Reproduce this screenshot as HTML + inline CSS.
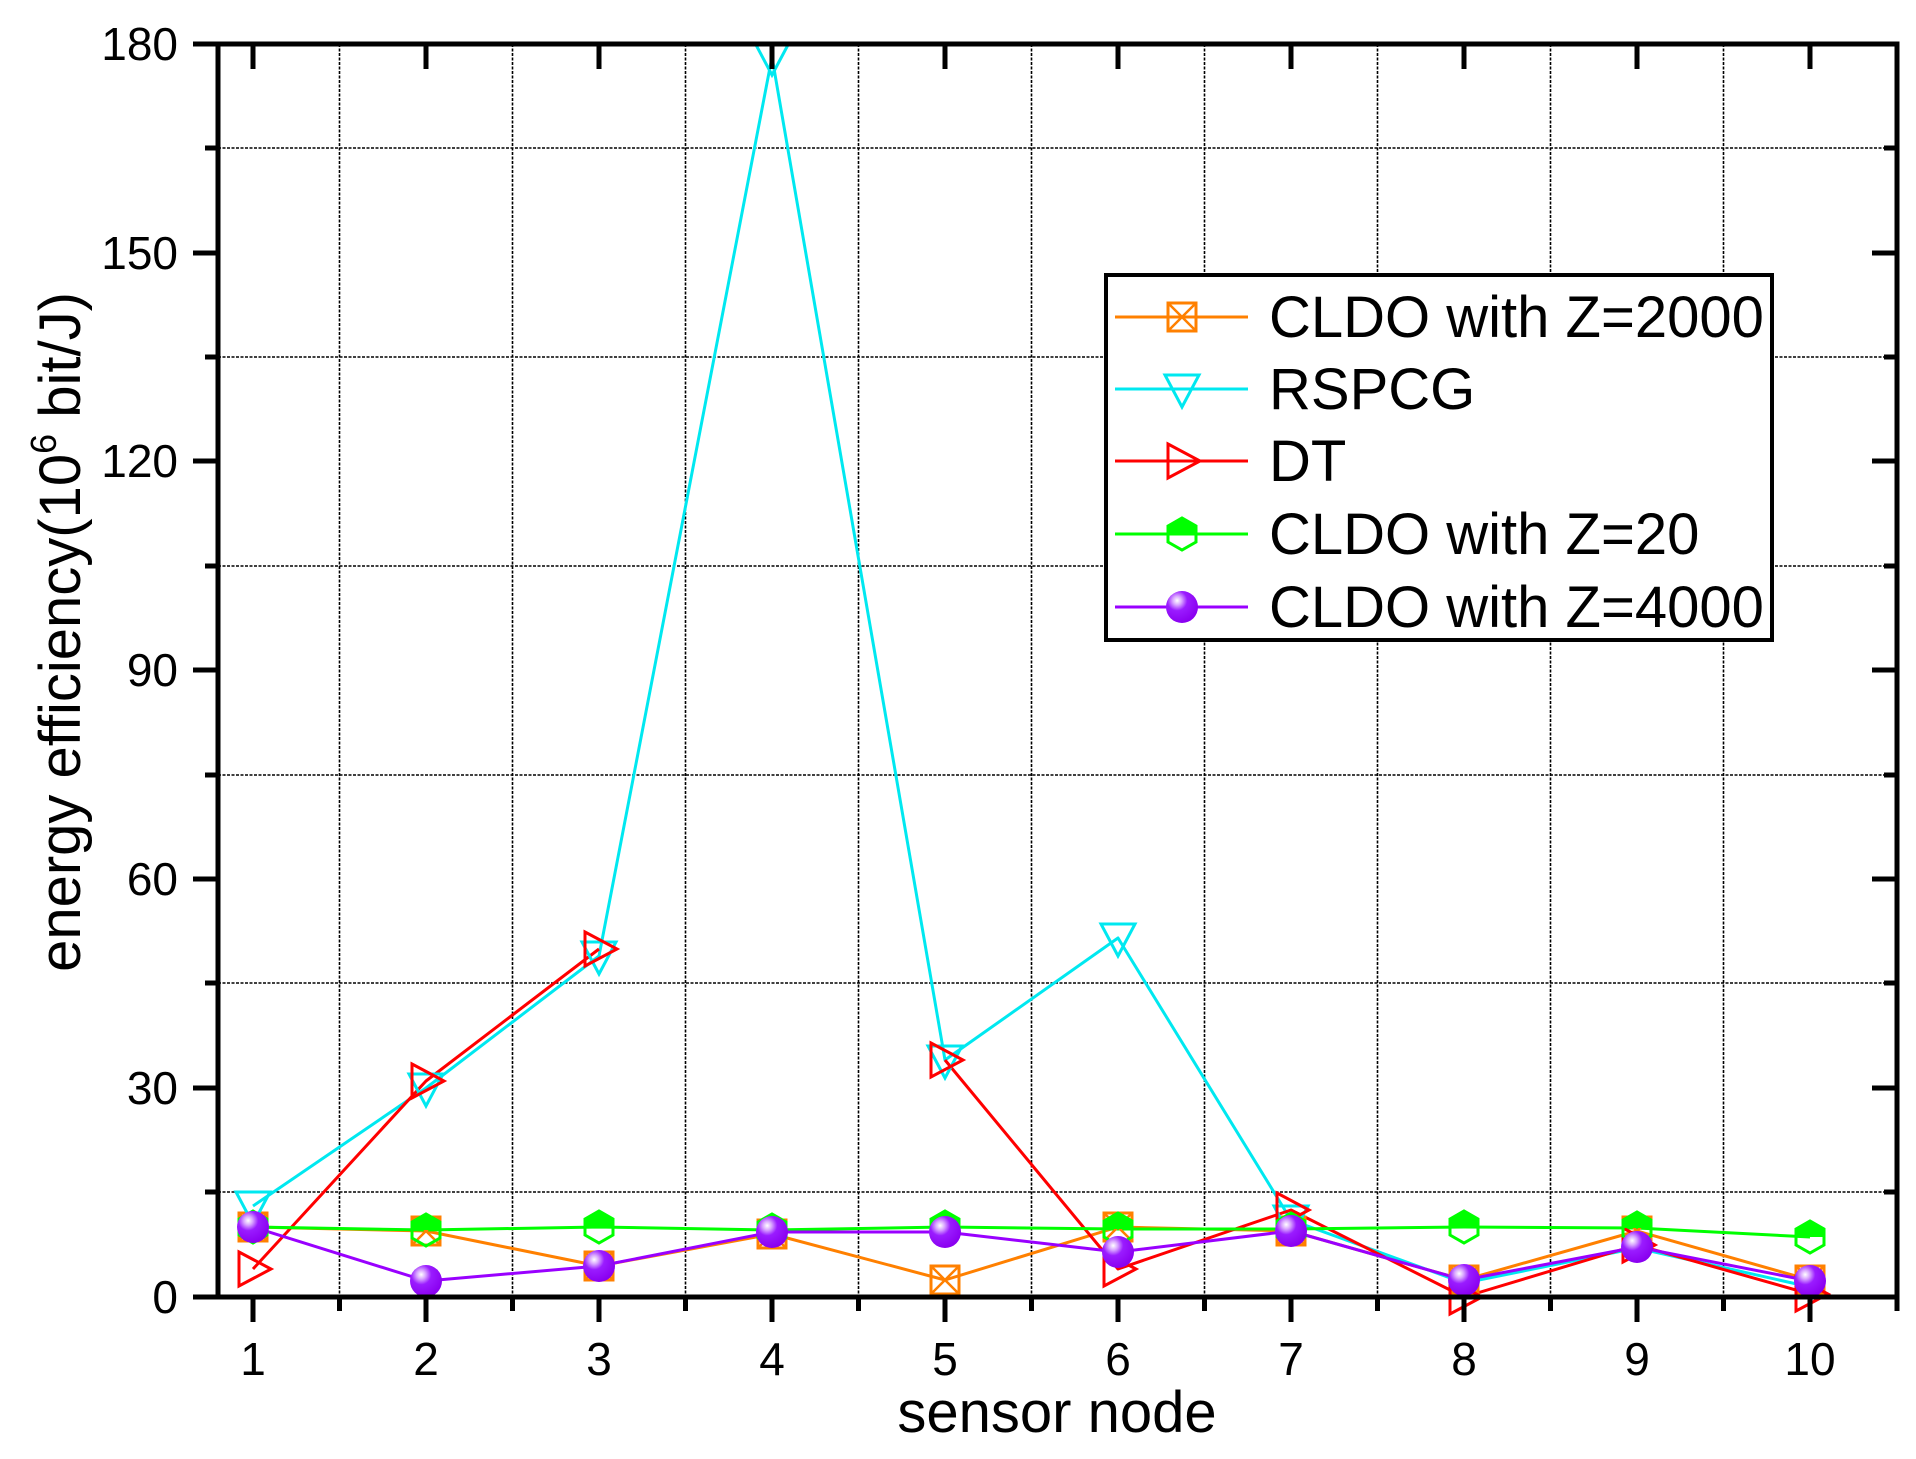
<!DOCTYPE html>
<html><head><meta charset="utf-8"><style>
html,body{margin:0;padding:0;background:#fff;}
svg{display:block;}
text{font-family:"Liberation Sans",Arial,sans-serif;fill:#000;}
</style></head><body>
<svg width="1916" height="1459" viewBox="0 0 1916 1459" xmlns="http://www.w3.org/2000/svg">
<defs>
<radialGradient id="sph" cx="0.35" cy="0.3" r="0.7">
<stop offset="0" stop-color="#ffffff"/>
<stop offset="0.2" stop-color="#d9a6ff"/>
<stop offset="0.45" stop-color="#9a1cff"/>
<stop offset="1" stop-color="#8a00f0"/>
</radialGradient>
<g id="sq"><rect x="-14" y="-14" width="28" height="28" fill="none" stroke="#ff8000" stroke-width="3"/><path d="M-14,-14L14,14M14,-14L-14,14" stroke="#ff8000" stroke-width="2.5"/></g>
<g id="dtri"><path d="M-17,-14L17,-14L0,18Z" fill="none" stroke="#00e8f0" stroke-width="3"/></g>
<g id="rtri"><path d="M-14,-17L18,0L-14,17Z" fill="none" stroke="#ff0000" stroke-width="3"/></g>
<g id="hex"><path d="M-14,0L-14,-8L0,-16L14,-8L14,0Z" fill="#00ff00"/><path d="M-14,-8L0,-16L14,-8L14,8L0,16L-14,8Z" fill="none" stroke="#00ff00" stroke-width="3"/></g>
<g id="sphm"><circle r="16" fill="url(#sph)"/></g>
</defs>

<!-- grid -->
<g stroke="#000" stroke-width="1.6" stroke-dasharray="3,1.5">
<line x1="218" x2="1897" y1="1192" y2="1192"/>
<line x1="218" x2="1897" y1="983" y2="983"/>
<line x1="218" x2="1897" y1="775" y2="775"/>
<line x1="218" x2="1897" y1="566" y2="566"/>
<line x1="218" x2="1897" y1="357" y2="357"/>
<line x1="218" x2="1897" y1="148" y2="148"/>
<line y1="44" y2="1297" x1="339.5" x2="339.5"/>
<line y1="44" y2="1297" x1="512.5" x2="512.5"/>
<line y1="44" y2="1297" x1="685.5" x2="685.5"/>
<line y1="44" y2="1297" x1="858.5" x2="858.5"/>
<line y1="44" y2="1297" x1="1031.5" x2="1031.5"/>
<line y1="44" y2="1297" x1="1204.5" x2="1204.5"/>
<line y1="44" y2="1297" x1="1377.5" x2="1377.5"/>
<line y1="44" y2="1297" x1="1550.5" x2="1550.5"/>
<line y1="44" y2="1297" x1="1723.5" x2="1723.5"/>
</g>

<!-- series lines -->
<g fill="none" stroke-width="3" stroke-linejoin="round">
<polyline stroke="#ff8000" points="253,1227 426,1231 599,1266 772,1234 945,1280 1118,1227 1291,1231 1464,1280 1637,1231 1810,1280"/>
<polyline stroke="#00e8f0" points="253,1206 426,1088 599,956 772,57 945,1060 1118,938 1291,1220 1464,1283 1637,1248 1810,1287"/>
<polyline stroke="#ff0000" points="253,1269 426,1081 599,949"/>
<polyline stroke="#ff0000" points="945,1060 1118,1269 1291,1210 1464,1297 1637,1245 1810,1294"/>
<polyline stroke="#00ff00" points="253,1227 426,1230 599,1227 772,1230 945,1227 1118,1229 1291,1229 1464,1227 1637,1228 1810,1237"/>
<polyline stroke="#9900ff" points="253,1227 426,1281 599,1266 772,1232 945,1232 1118,1252 1291,1231 1464,1280 1637,1247 1810,1281"/>
</g>

<!-- markers -->
<g>
<use href="#sq" x="253" y="1227"/><use href="#sq" x="426" y="1231"/><use href="#sq" x="599" y="1266"/><use href="#sq" x="772" y="1234"/><use href="#sq" x="945" y="1280"/><use href="#sq" x="1118" y="1227"/><use href="#sq" x="1291" y="1231"/><use href="#sq" x="1464" y="1280"/><use href="#sq" x="1637" y="1231"/><use href="#sq" x="1810" y="1280"/>
<use href="#dtri" x="253" y="1206"/><use href="#dtri" x="426" y="1088"/><use href="#dtri" x="599" y="956"/><use href="#dtri" x="772" y="57"/><use href="#dtri" x="945" y="1060"/><use href="#dtri" x="1118" y="938"/><use href="#dtri" x="1291" y="1220"/>
<use href="#rtri" x="253" y="1269"/><use href="#rtri" x="426" y="1081"/><use href="#rtri" x="599" y="949"/><use href="#rtri" x="945" y="1060"/><use href="#rtri" x="1118" y="1269"/><use href="#rtri" x="1291" y="1210"/><use href="#rtri" x="1464" y="1297"/><use href="#rtri" x="1637" y="1245"/><use href="#rtri" x="1810" y="1294"/>
<use href="#hex" x="253" y="1227"/><use href="#hex" x="426" y="1230"/><use href="#hex" x="599" y="1227"/><use href="#hex" x="772" y="1230"/><use href="#hex" x="945" y="1227"/><use href="#hex" x="1118" y="1229"/><use href="#hex" x="1291" y="1229"/><use href="#hex" x="1464" y="1227"/><use href="#hex" x="1637" y="1228"/><use href="#hex" x="1810" y="1237"/>
<use href="#sphm" x="253" y="1227"/><use href="#sphm" x="426" y="1281"/><use href="#sphm" x="599" y="1266"/><use href="#sphm" x="772" y="1232"/><use href="#sphm" x="945" y="1232"/><use href="#sphm" x="1118" y="1252"/><use href="#sphm" x="1291" y="1231"/><use href="#sphm" x="1464" y="1280"/><use href="#sphm" x="1637" y="1247"/><use href="#sphm" x="1810" y="1281"/>
</g>

<!-- axes frame -->
<rect x="218" y="44" width="1679" height="1253" fill="none" stroke="#000" stroke-width="5"/>
<!-- ticks -->
<g stroke="#000" stroke-width="5">
<!-- left major outward -->
<line x1="193" x2="218" y1="1297" y2="1297"/><line x1="193" x2="218" y1="1088" y2="1088"/><line x1="193" x2="218" y1="879" y2="879"/><line x1="193" x2="218" y1="670" y2="670"/><line x1="193" x2="218" y1="461" y2="461"/><line x1="193" x2="218" y1="253" y2="253"/><line x1="193" x2="218" y1="44" y2="44"/>
<!-- left minor -->
<line x1="205" x2="218" y1="1192" y2="1192"/><line x1="205" x2="218" y1="983" y2="983"/><line x1="205" x2="218" y1="775" y2="775"/><line x1="205" x2="218" y1="566" y2="566"/><line x1="205" x2="218" y1="357" y2="357"/><line x1="205" x2="218" y1="148" y2="148"/>
<!-- right inward -->
<line x1="1872" x2="1897" y1="1088" y2="1088"/><line x1="1872" x2="1897" y1="879" y2="879"/><line x1="1872" x2="1897" y1="670" y2="670"/><line x1="1872" x2="1897" y1="461" y2="461"/><line x1="1872" x2="1897" y1="253" y2="253"/>
<line x1="1884" x2="1897" y1="1192" y2="1192"/><line x1="1884" x2="1897" y1="983" y2="983"/><line x1="1884" x2="1897" y1="775" y2="775"/><line x1="1884" x2="1897" y1="566" y2="566"/><line x1="1884" x2="1897" y1="357" y2="357"/><line x1="1884" x2="1897" y1="148" y2="148"/>
</g>
<g stroke="#000" stroke-width="5" id="bt">
<line y1="1297" y2="1322" x1="253" x2="253"/><line y1="1297" y2="1322" x1="426" x2="426"/><line y1="1297" y2="1322" x1="599" x2="599"/><line y1="1297" y2="1322" x1="772" x2="772"/><line y1="1297" y2="1322" x1="945" x2="945"/><line y1="1297" y2="1322" x1="1118" x2="1118"/><line y1="1297" y2="1322" x1="1291" x2="1291"/><line y1="1297" y2="1322" x1="1464" x2="1464"/><line y1="1297" y2="1322" x1="1637" x2="1637"/><line y1="1297" y2="1322" x1="1810" x2="1810"/>
<line y1="1297" y2="1311" x1="339.5" x2="339.5"/><line y1="1297" y2="1311" x1="512.5" x2="512.5"/><line y1="1297" y2="1311" x1="685.5" x2="685.5"/><line y1="1297" y2="1311" x1="858.5" x2="858.5"/><line y1="1297" y2="1311" x1="1031.5" x2="1031.5"/><line y1="1297" y2="1311" x1="1204.5" x2="1204.5"/><line y1="1297" y2="1311" x1="1377.5" x2="1377.5"/><line y1="1297" y2="1311" x1="1550.5" x2="1550.5"/><line y1="1297" y2="1311" x1="1723.5" x2="1723.5"/>
<line y1="1297" y2="1311" x1="1897" x2="1897"/>
<!-- top inward -->
<line y1="44" y2="69" x1="253" x2="253"/><line y1="44" y2="69" x1="426" x2="426"/><line y1="44" y2="69" x1="599" x2="599"/><line y1="44" y2="69" x1="772" x2="772"/><line y1="44" y2="69" x1="945" x2="945"/><line y1="44" y2="69" x1="1118" x2="1118"/><line y1="44" y2="69" x1="1291" x2="1291"/><line y1="44" y2="69" x1="1464" x2="1464"/><line y1="44" y2="69" x1="1637" x2="1637"/><line y1="44" y2="69" x1="1810" x2="1810"/>
</g>

<!-- tick labels -->
<g font-size="46" text-anchor="end">
<text x="178" y="1313">0</text><text x="178" y="1104">30</text><text x="178" y="895">60</text><text x="178" y="686">90</text><text x="178" y="477">120</text><text x="178" y="269">150</text><text x="178" y="60">180</text>
</g>
<g font-size="46" text-anchor="middle">
<text x="253" y="1375">1</text><text x="426" y="1375">2</text><text x="599" y="1375">3</text><text x="772" y="1375">4</text><text x="945" y="1375">5</text><text x="1118" y="1375">6</text><text x="1291" y="1375">7</text><text x="1464" y="1375">8</text><text x="1637" y="1375">9</text><text x="1810" y="1375">10</text>
</g>
<text x="1057" y="1432" font-size="58" text-anchor="middle">sensor node</text>
<text transform="translate(80,632) rotate(-90)" font-size="58" text-anchor="middle">energy efficiency(10<tspan font-size="36" dy="-24">6</tspan><tspan dy="24"> bit/J)</tspan></text>

<!-- legend -->
<rect x="1106" y="275" width="666" height="365" fill="#fff" stroke="#000" stroke-width="4"/>
<g stroke-width="3">
<line x1="1115" x2="1248" y1="317" y2="317" stroke="#ff8000"/>
<line x1="1115" x2="1248" y1="389" y2="389" stroke="#00e8f0"/>
<line x1="1115" x2="1248" y1="461" y2="461" stroke="#ff0000"/>
<line x1="1115" x2="1248" y1="534" y2="534" stroke="#00ff00"/>
<line x1="1115" x2="1248" y1="607" y2="607" stroke="#9900ff"/>
</g>
<use href="#sq" x="1182" y="317"/><use href="#dtri" x="1182" y="389"/><use href="#rtri" x="1182" y="461"/><use href="#hex" x="1182" y="534"/><use href="#sphm" x="1182" y="607"/>
<g font-size="58">
<text x="1269" y="337">CLDO with Z=2000</text>
<text x="1269" y="409">RSPCG</text>
<text x="1269" y="481">DT</text>
<text x="1269" y="554">CLDO with Z=20</text>
<text x="1269" y="627">CLDO with Z=4000</text>
</g>
</svg>
</body></html>
